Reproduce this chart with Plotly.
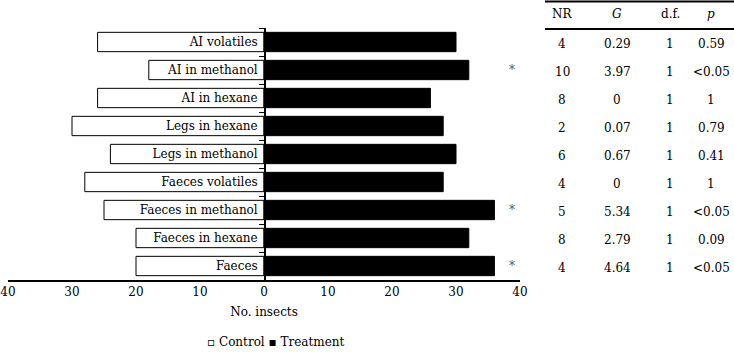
import plotly.graph_objects as go

categories = ["AI volatiles", "AI in methanol", "AI in hexane", "Legs in hexane",
              "Legs in methanol", "Faeces volatiles", "Faeces in methanol",
              "Faeces in hexane", "Faeces"]
control = [26, 18, 26, 30, 24, 28, 25, 20, 20]
treatment = [30, 32, 26, 28, 30, 28, 36, 32, 36]
significant = [False, True, False, False, False, False, True, False, True]
nr = ["4", "10", "8", "2", "6", "4", "5", "8", "4"]
g_stat = ["0.29", "3.97", "0", "0.07", "0.67", "0", "5.34", "2.79", "4.64"]
df_vals = ["1", "1", "1", "1", "1", "1", "1", "1", "1"]
p_vals = ["0.59", "<0.05", "1", "0.79", "0.41", "1", "<0.05", "0.09", "<0.05"]
headers = ["NR", "<i>G</i>", "d.f.", "<i>p</i>"]
tick_vals = [-40, -30, -20, -10, 0, 10, 20, 30, 40]
tick_text = [str(abs(v)) for v in tick_vals]

FONT = "DejaVu Serif"
FS = 12

fig = go.Figure()
fig.add_trace(go.Bar(y=categories, x=[-v for v in control], orientation="h",
                     name="Control", marker=dict(color="white", line=dict(color="black", width=1)),
                     width=0.69, hoverinfo="skip", showlegend=False))
fig.add_trace(go.Bar(y=categories, x=treatment, orientation="h",
                     name="Treatment", marker=dict(color="black", line=dict(color="black", width=1)),
                     width=0.69, hoverinfo="skip", showlegend=False))

ann = []
for c, s in zip(categories, significant):
    if s:
        ann.append(dict(x=38.75, y=c, xref="x", yref="y", text="*", showarrow=False,
                        font=dict(family=FONT, size=12, color="#555555"), yshift=0))

col_px = [562, 617, 670, 711]
col_x = [(p - 8) / 512 for p in col_px]
for cx, h in zip(col_x, headers):
    ann.append(dict(x=cx, y=(280 - 14) / 252, xref="paper", yref="paper", text=h, showarrow=False,
                    xanchor="center", yanchor="middle", font=dict(family=FONT, size=FS, color="black")))
for i, c in enumerate(categories):
    for cx, val in zip(col_x, [nr[i], g_stat[i], df_vals[i], p_vals[i]]):
        ann.append(dict(x=cx, y=c, xref="paper", yref="y", text=val, showarrow=False,
                        xanchor="center", yanchor="middle", yshift=-2,
                        font=dict(family=FONT, size=FS, color="black")))

ann.append(dict(x=(275 - 8) / 512, y=(280 - 342) / 252, xref="paper", yref="paper",
                text="\u25ab Control \u25aa Treatment", showarrow=False,
                xanchor="center", yanchor="middle", font=dict(family=FONT, size=FS, color="black")))

shapes = []
x0 = (545 - 8) / 512
x1 = (734 - 8) / 512
for ypx in [1.5, 29]:
    shapes.append(dict(type="line", xref="paper", yref="paper", x0=x0, x1=x1,
                       y0=(280 - ypx) / 252, y1=(280 - ypx) / 252,
                       line=dict(color="black", width=1.8)))

fig.update_layout(
    width=734, height=352,
    margin=dict(l=8, r=214, t=28, b=72),
    paper_bgcolor="white", plot_bgcolor="white",
    barmode="relative", bargap=0.31, showlegend=False,
    font=dict(family=FONT, size=FS, color="black"),
    xaxis=dict(range=[-40, 40], tickvals=tick_vals, ticktext=tick_text, automargin=False,
               showgrid=False, zeroline=False, showline=True, linecolor="black", linewidth=1.8,
               ticks="", tickfont=dict(family=FONT, size=FS, color="black"),
               ticklabeloverflow="allow",
               title=dict(text="No. insects", font=dict(family=FONT, size=FS, color="black"), standoff=9)),
    yaxis=dict(categoryorder="array", categoryarray=categories, autorange="reversed", automargin=False,
               showgrid=False, zeroline=False, showline=True, linecolor="black", linewidth=1.8,
               anchor="free", position=(265 - 8) / 512, showticklabels=True, side="left",
               tickfont=dict(family=FONT, size=FS, color="black"), ticklabelstandoff=4,
               ticklabeloverflow="allow",
               ticks="outside", tickson="boundaries", ticklen=5, tickcolor="black", tickwidth=1),
    annotations=ann, shapes=shapes,
)

fig.write_html("out.html", config={"displayModeBar": False},
               post_script="document.body.style.margin='0';document.body.style.overflow='hidden';")
